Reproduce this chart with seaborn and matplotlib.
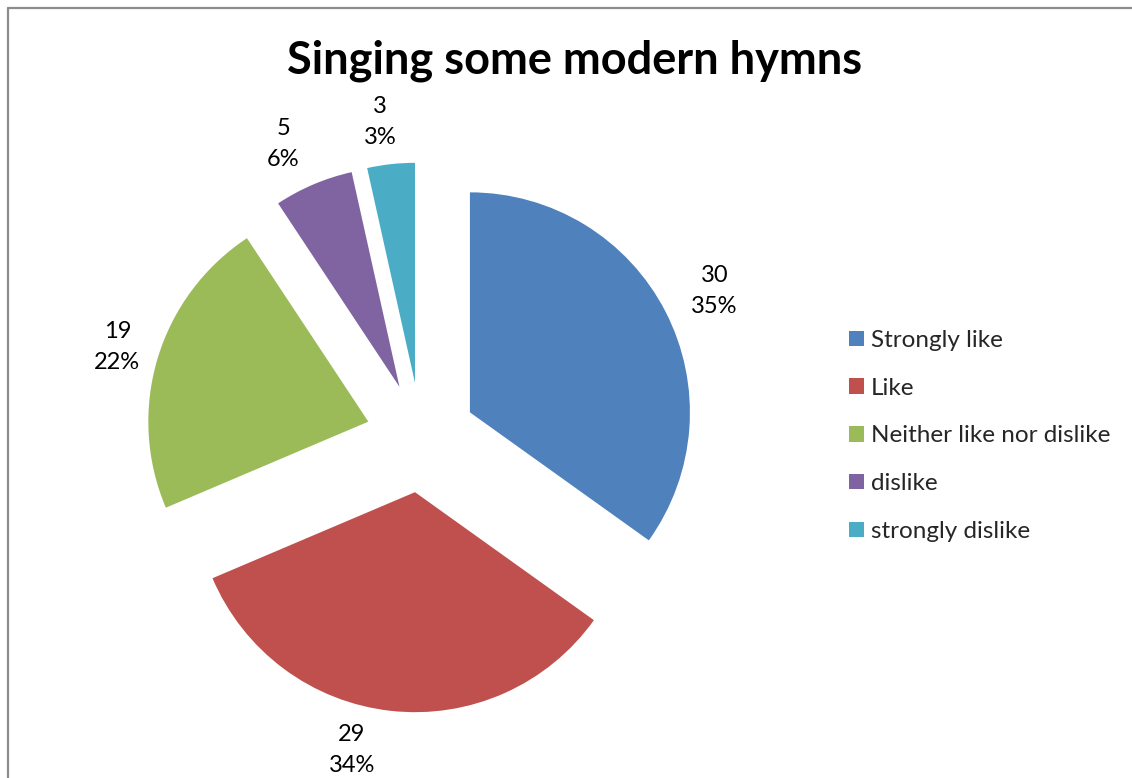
import matplotlib
matplotlib.use("Agg")
import matplotlib.pyplot as plt
import seaborn as sns
import numpy as np

categories = ["Strongly like", "Like", "Neither like nor dislike", "dislike", "strongly dislike"]
values = [30, 29, 19, 5, 3]
colors = ["#4F81BD", "#C0504D", "#9BBB59", "#8064A2", "#4BACC6"]
title = "Singing some modern hymns"

# small per-label nudges (pixels) to mimic the original label placement
label_nudge = [(8, 0), (-34, 7), (4, -2), (-12, -2), (-6, -4)]

sns.set_theme(style="white")
plt.rcParams['font.family'] = ['Lato', 'DejaVu Sans']

W, H = 1132, 778
fig = plt.figure(figsize=(W / 100, H / 100), dpi=100)
ax = fig.add_axes([0, 0, 1, 1])

total = sum(values)
labels = [f"{v}\n{round(v / total * 100):.0f}%" for v in values]

R = 220.0  # pixels per unit radius
cx, cy = 421.0, 437.5  # pie centre in pixels (y down)
explode = 0.25
labeldist = 1.21

wedges, _ = ax.pie(values, colors=colors, startangle=90, counterclock=False,
                   explode=[explode] * len(values), radius=1.0,
                   wedgeprops=dict(linewidth=0))

for w, lab, (nx, ny) in zip(wedges, labels, label_nudge):
    mid = np.deg2rad((w.theta1 + w.theta2) / 2)
    d = explode + labeldist
    x, y = d * np.cos(mid), d * np.sin(mid)
    ax.annotate(lab, xy=(x, y), xytext=(nx * 0.72, ny * 0.72), textcoords="offset points",
                ha="center", va="center", fontsize=17, color="black",
                linespacing=1.6)

ax.set_aspect("auto")
ax.set_xlim(-cx / R, (W - cx) / R)
ax.set_ylim(-(H - cy) / R, cy / R)
ax.axis("off")

fig.text(575 / W, 1 - 74 / H, title, ha="center", va="baseline",
         fontsize=32.5, fontweight="bold", color="black")

leg = fig.legend(wedges, categories, loc="center left",
                 bbox_to_anchor=(849 / W, 1 - 436 / H), frameon=False,
                 fontsize=17.5, handlelength=0.6, handleheight=0.6,
                 handletextpad=0.3, labelspacing=1.1, borderaxespad=0,
                 borderpad=0)

# outer chart border (top and left visible)
fig.add_artist(plt.Line2D([8 / W, 8 / W], [0, 1 - 8 / H], transform=fig.transFigure,
                          color="#8c8c8c", linewidth=1.6))
fig.add_artist(plt.Line2D([8 / W, 1], [1 - 8 / H, 1 - 8 / H], transform=fig.transFigure,
                          color="#8c8c8c", linewidth=1.6))

fig.savefig("out.png", dpi=100)
